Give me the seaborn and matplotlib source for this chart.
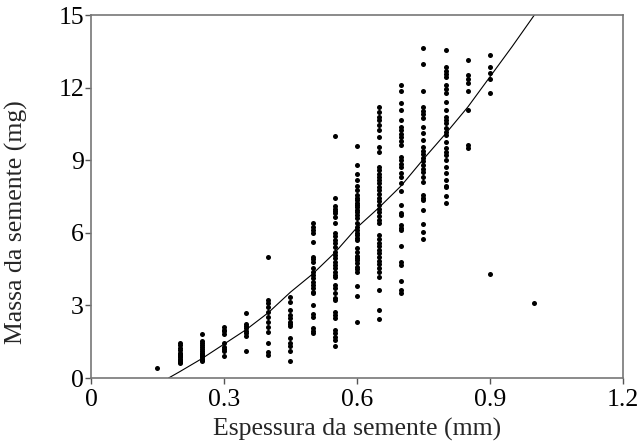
import matplotlib
matplotlib.use("Agg")
import matplotlib.pyplot as plt
import seaborn as sns
import pandas as pd

# espessura (mm) de cada coluna de pontos e massas (mg)
espessuras = [0.15, 0.20, 0.25, 0.30, 0.35, 0.40, 0.45, 0.50, 0.55,
              0.60, 0.65, 0.70, 0.75, 0.80, 0.85, 0.90, 1.00]
massas = [
    [0.43],
    [1.45, 1.35, 1.25, 1.15, 1.05, 1.0, 0.95, 0.9, 0.85, 0.8, 0.75, 0.7, 0.65, 0.6],
    [1.82, 1.55, 1.45, 1.35, 1.3, 1.2, 1.1, 1.05, 1.0, 0.95, 0.9, 0.85, 0.8, 0.75, 0.7],
    [2.1, 2.0, 1.95, 1.8, 1.45, 1.3, 1.2, 1.1, 0.9],
    [2.7, 2.25, 2.15, 2.05, 1.95, 1.85, 1.72, 1.12],
    [5.0, 3.22, 3.09, 2.92, 2.74, 2.53, 2.33, 2.12, 1.91, 1.43, 1.09, 0.95],
    [3.33, 3.15, 2.81, 2.6, 2.47, 2.33, 2.25, 2.16, 1.64, 1.43, 1.33, 1.12, 0.72],
    [6.39, 6.25, 6.12, 5.98, 5.64, 5.01, 4.92, 4.81, 4.53, 4.39, 4.26, 4.12, 3.98,
     3.84, 3.71, 3.57, 3.5, 3.02, 2.63, 2.53, 2.05, 1.96, 1.87],
    [10.0, 7.46, 7.1, 7.0, 6.9, 6.8, 6.67, 6.39, 5.98, 5.85, 5.7, 5.57, 5.43, 5.22,
     5.08, 4.95, 4.8, 4.67, 4.53, 4.4, 4.26, 4.19, 3.84, 3.7, 3.5, 3.3, 3.22, 2.74,
     2.6, 2.47, 1.98, 1.85, 1.7, 1.57, 1.33],
    [9.6, 8.8, 8.45, 8.2, 7.95, 7.75, 7.56, 7.45, 7.35, 7.25, 7.15, 7.05, 6.95, 6.85,
     6.75, 6.6, 6.39, 6.25, 6.1, 6.0, 5.9, 5.8, 5.7, 5.36, 5.2, 5.05, 4.95, 4.88,
     4.74, 4.6, 4.5, 4.39, 3.8, 3.4, 2.33],
    [11.2, 11.0, 10.8, 10.66, 10.45, 10.25, 9.97, 9.56, 9.35, 8.73, 8.6, 8.45, 8.3,
     8.18, 8.05, 7.9, 7.75, 7.6, 7.45, 7.3, 7.15, 7.0, 6.85, 6.7, 6.55, 6.39, 5.9,
     5.75, 5.6, 5.45, 5.3, 5.15, 5.0, 4.85, 4.7, 4.55, 4.4, 4.19, 3.64, 2.81, 2.43],
    [12.1, 11.86, 11.38, 11.07, 10.66, 10.38, 10.25, 10.1, 9.95, 9.8, 9.63, 9.14,
     9.0, 8.85, 8.73, 8.46, 8.32, 8.05, 7.74, 7.15, 6.8, 6.74, 6.32, 6.2, 6.12, 5.45,
     4.81, 4.67, 4.02, 3.64, 3.5],
    [13.65, 12.96, 11.86, 11.19, 11.05, 10.9, 10.73, 10.38, 10.11, 9.83, 9.56, 9.4,
     9.25, 9.1, 8.95, 8.8, 8.65, 8.5, 8.32, 8.11, 7.56, 7.43, 7.36, 6.94, 6.35, 6.05,
     5.74],
    [13.54, 12.86, 12.7, 12.55, 12.45, 12.11, 11.95, 11.76, 11.42, 11.07, 10.8,
     10.65, 10.52, 10.32, 10.15, 10.04, 9.76, 9.49, 9.35, 9.2, 9.01, 8.73, 8.46,
     8.18, 7.95, 7.9, 7.53, 7.24],
    [13.14, 12.52, 12.35, 12.18, 11.86, 11.07, 9.63, 9.49],
    [13.37, 12.87, 12.59, 12.34, 11.76, 4.31],
    [3.1],
]

# curva ajustada, pontos
curva_x = [0.175, 0.2, 0.25, 0.3, 0.35, 0.4, 0.45, 0.5, 0.55, 0.6, 0.65,
           0.7, 0.75, 0.8, 0.85, 0.9, 0.95, 1.0]
curva_y = [0.0, 0.26, 0.8, 1.4, 2.0, 2.7, 3.55, 4.3, 5.18, 6.22, 7.05,
           7.95, 9.05, 10.1, 11.2, 12.45, 13.7, 15.0]

x_ticks = [0, 0.3, 0.6, 0.9, 1.2]
y_ticks = [0, 3, 6, 9, 12, 15]

df = pd.DataFrame({
    "espessura": [e for e, ms in zip(espessuras, massas) for _ in ms],
    "massa": [m for ms in massas for m in ms],
})

sns.set_style("ticks")
plt.rcParams['font.family'] = ['Liberation Serif', 'DejaVu Serif']

fig = plt.figure(figsize=(6.43, 4.43), dpi=100)
ax = fig.add_axes([0.1415, 0.1467, 0.9689 - 0.1415, 0.966 - 0.1467])

sns.scatterplot(data=df, x="espessura", y="massa", color="black", s=13,
                linewidth=0, ax=ax)
sns.lineplot(x=curva_x, y=curva_y, color="black", linewidth=0.8, ax=ax)

ax.set_xlim(0, 1.2)
ax.set_ylim(0, 15)
ax.set_xticks(x_ticks)
ax.set_xticklabels(["0", "0.3", "0.6", "0.9", "1.2"])
ax.set_yticks(y_ticks)
ax.set_yticklabels([str(t) for t in y_ticks])
ax.tick_params(direction="out", length=4, width=1, color="#555555",
               labelsize=18.5, pad=1, labelcolor="black")
ax.tick_params(axis="x", pad=4)
for s in ax.spines.values():
    s.set_color("#777777")
    s.set_linewidth(1.2)
    s.set_visible(True)

ax.set_xlabel("Espessura da semente (mm)", fontsize=18.5, labelpad=5)
ax.set_ylabel("Massa da semente (mg)", fontsize=18.5)
ax.yaxis.set_label_coords(-0.118, 0.43)

fig.savefig("out.png", dpi=100)
